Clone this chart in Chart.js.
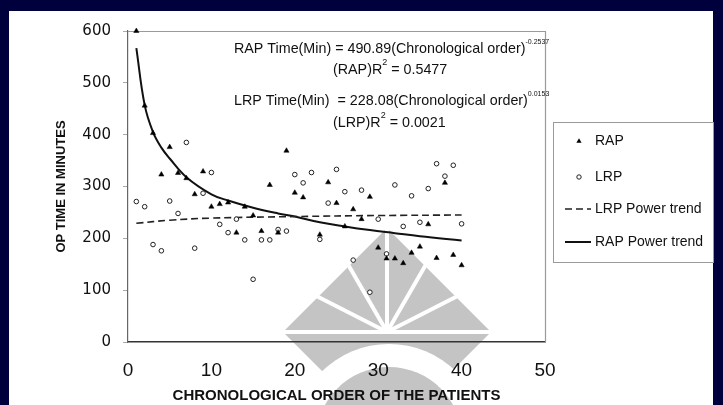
<!DOCTYPE html>
<html>
<head>
<meta charset="utf-8">
<script src="https://cdn.jsdelivr.net/npm/chart.js@4.4.1/dist/chart.umd.min.js"></script>
<style>
  html, body { margin: 0; padding: 0; background: #00003c; }
  #wrap { position: absolute; left: 0; top: 0; width: 723px; height: 405px; }
</style>
</head>
<body>
<div id="wrap"><canvas id="grafico" width="723" height="405"></canvas></div>
<script>
// Chronological order of the patients
const patientOrder = [1, 2, 3, 4, 5, 6, 7, 8, 9, 10, 11, 12, 13, 14, 15, 16, 17, 18, 19, 20,
                      21, 22, 23, 24, 25, 26, 27, 28, 29, 30, 31, 32, 33, 34, 35, 36, 37, 38, 39, 40];
// OP time (min), RAP group (null = not visible)
const rapTimes = [600, 456, 403, 323, 376, 326, 316, 285, 329, 261, 266, 269, 211, 261, 244, 214, 303, 211, 369, 288,
                  279, null, 207, 308, 268, 223, 256, 237, 280, 182, 161, 161, 152, 172, 184, 227, 162, 307, 168, 148];
// OP time (min), LRP group
const lrpTimes = [271, 261, 188, 176, 272, 248, 385, 181, 287, 327, 227, 211, 237, 197, 121, 197, 197, 217, 214, 323,
                  307, 327, 198, 268, 333, 290, 158, 293, 96, 237, 170, 303, 223, 282, 231, 296, 344, 320, 341, 228];
// Power trend lines
const rapTrendX = [1, 2, 3, 4, 5, 7, 10, 12, 15, 18, 20, 23, 26, 29, 32, 35, 40];
const rapTrendY = [567, 457, 405, 375, 354, 318, 285, 273, 259, 248, 242, 231, 223, 216, 210, 204, 196];
const lrpTrendX = [1, 5, 10, 20, 30, 40];
const lrpTrendY = [229, 235, 239, 242, 244, 245];
// Ticks
const xTicks = [0, 10, 20, 30, 40, 50];
const yTicks = [0, 100, 200, 300, 400, 500, 600];
// Series labels
const seriesNames = ['RAP', 'LRP', 'LRP Power trend', 'RAP Power trend'];
// Equation annotation: [main text, superscript, tail, superscript size]
const equations = [
  ['RAP Time(Min) = 490.89(Chronological order)', '-0.2537', '', 7],
  ['(RAP)R', '2', ' = 0.5477', 9],
  ['LRP Time(Min)  = 228.08(Chronological order)', '0.0153', '', 7],
  ['(LRP)R', '2', ' = 0.0021', 9]
];

const pts = (xs, ys) => xs.map((x, i) => ({x: x, y: ys[i]})).filter(p => p.y !== null);

// Grey watermark behind the plot
function drawWatermark(ctx) {
  ctx.save();
  ctx.beginPath();
  ctx.rect(9, 11, 704, 394);
  ctx.clip();
  const cx = 387, cy = 332;
  ctx.fillStyle = '#c4c4c4';
  ctx.beginPath();
  ctx.moveTo(cx, cy - 104);
  ctx.lineTo(cx + 104, cy);
  ctx.lineTo(cx, cy + 104);
  ctx.lineTo(cx - 104, cy);
  ctx.closePath();
  ctx.fill();
  ctx.fillStyle = '#ffffff';
  ctx.beginPath();
  ctx.arc(389, 440, 96, 0, Math.PI * 2);
  ctx.fill();
  ctx.fillStyle = '#c4c4c4';
  ctx.beginPath();
  ctx.arc(389, 440, 73, 0, Math.PI * 2);
  ctx.fill();
  // white rays
  ctx.strokeStyle = '#ffffff';
  ctx.lineWidth = 4;
  [-90, -63, -30, 0, 30, 63, 90].forEach(a => {
    const r = a * Math.PI / 180;
    ctx.beginPath();
    ctx.moveTo(cx, cy);
    ctx.lineTo(cx + Math.sin(r) * 120, cy - Math.cos(r) * 120);
    ctx.stroke();
  });
  ctx.restore();
}

// Background: navy frame, white panel, watermark and plot box
const fundo = {
  id: 'fundo',
  beforeDraw(chart) {
    const ctx = chart.ctx;
    ctx.save();
    ctx.fillStyle = '#00003c';
    ctx.fillRect(0, 0, chart.width, chart.height);
    ctx.fillStyle = '#ffffff';
    ctx.fillRect(9, 11, 704, 394);
    ctx.restore();
    drawWatermark(ctx);
  },
  beforeDatasetsDraw(chart) {
    const a = chart.chartArea, ctx = chart.ctx;
    ctx.save();
    ctx.strokeStyle = '#9a9a9a';
    ctx.lineWidth = 1.2;
    ctx.beginPath();
    ctx.moveTo(a.left, a.top + 0.5);
    ctx.lineTo(a.right + 0.5, a.top + 0.5);
    ctx.lineTo(a.right + 0.5, a.bottom);
    ctx.stroke();
    ctx.restore();
  }
};

// Equations and the boxed legend
const anotacoes = {
  id: 'anotacoes',
  afterDraw(chart) {
    const ctx = chart.ctx;
    const mainFont = '14.3px "Liberation Sans", Arial, sans-serif';
    ctx.save();
    ctx.fillStyle = '#111';
    ctx.textBaseline = 'middle';
    const rows = [[234, 49], [333, 70], [234, 101], [333, 123]];
    equations.forEach((eq, i) => {
      let x = rows[i][0];
      const y = rows[i][1];
      ctx.font = mainFont;
      ctx.fillText(eq[0], x, y);
      x += ctx.measureText(eq[0]).width;
      ctx.font = eq[3] + 'px "Liberation Sans", Arial, sans-serif';
      ctx.fillText(eq[1], x, y - 7);
      x += ctx.measureText(eq[1]).width;
      ctx.font = mainFont;
      ctx.fillText(eq[2], x, y);
    });

    // legend box
    ctx.strokeStyle = '#9a9a9a';
    ctx.lineWidth = 1;
    ctx.strokeRect(553.5, 122.5, 160, 140);
    const ys = [141, 177, 209, 242];
    ctx.font = '14px "Liberation Sans", Arial, sans-serif';
    chart.data.datasets.forEach((ds, i) => {
      const y = ys[i];
      if (ds.showLine) {
        ctx.strokeStyle = ds.borderColor;
        ctx.lineWidth = ds.borderWidth;
        ctx.setLineDash(ds.borderDash || []);
        ctx.beginPath();
        ctx.moveTo(565, y);
        ctx.lineTo(591, y);
        ctx.stroke();
        ctx.setLineDash([]);
      } else {
        ctx.fillStyle = ds.pointBackgroundColor;
        ctx.strokeStyle = ds.pointBorderColor;
        ctx.lineWidth = ds.borderWidth;
        ctx.beginPath();
        if (ds.pointStyle === 'triangle') {
          ctx.moveTo(579, y - 2.8);
          ctx.lineTo(581.6, y + 1.8);
          ctx.lineTo(576.4, y + 1.8);
          ctx.closePath();
          ctx.fill();
        } else {
          ctx.arc(579, y, 2.2, 0, Math.PI * 2);
          ctx.fill();
          ctx.stroke();
        }
      }
      ctx.fillStyle = '#111';
      ctx.fillText(ds.label, 595, y);
    });
    ctx.restore();
  }
};

const ctx = document.getElementById('grafico').getContext('2d');
new Chart(ctx, {
  type: 'scatter',
  data: {
    datasets: [
      {
        label: seriesNames[0],
        data: pts(patientOrder, rapTimes),
        pointStyle: 'triangle',
        pointRadius: 3,
        pointBackgroundColor: '#000',
        pointBorderColor: '#000',
        borderWidth: 0.5,
        showLine: false,
        clip: 6
      },
      {
        label: seriesNames[1],
        data: pts(patientOrder, lrpTimes),
        pointStyle: 'circle',
        pointRadius: 2.3,
        pointBackgroundColor: '#fff',
        pointBorderColor: '#222',
        borderWidth: 1,
        showLine: false,
        clip: 6
      },
      {
        label: seriesNames[2],
        data: pts(lrpTrendX, lrpTrendY),
        showLine: true,
        pointRadius: 0,
        borderColor: '#222',
        borderWidth: 1.6,
        borderDash: [7, 4],
        tension: 0.4,
        fill: false
      },
      {
        label: seriesNames[3],
        data: pts(rapTrendX, rapTrendY),
        showLine: true,
        pointRadius: 0,
        borderColor: '#111',
        borderWidth: 2,
        tension: 0.4,
        fill: false
      }
    ]
  },
  options: {
    responsive: false,
    animation: false,
    layout: { padding: { top: 31, right: 178, left: 0, bottom: 0 } },
    plugins: {
      legend: { display: false },
      tooltip: { enabled: false }
    },
    scales: {
      x: {
        type: 'linear',
        min: 0,
        max: 50,
        afterBuildTicks: s => { s.ticks = xTicks.map(v => ({ value: v })); },
        afterFit: s => { s.height = 63; },
        grid: { drawOnChartArea: false, drawTicks: false },
        border: { display: true, color: '#333', width: 1.5 },
        ticks: {
          padding: 17,
          color: '#111',
          font: { family: '"Liberation Sans", Arial, sans-serif', size: 19 }
        },
        title: {
          display: true,
          text: 'CHRONOLOGICAL ORDER OF THE PATIENTS',
          color: '#111',
          padding: { top: 0, bottom: 0 },
          font: { family: '"Liberation Sans", Arial, sans-serif', size: 15, weight: 'bold' }
        }
      },
      y: {
        type: 'linear',
        min: 0,
        max: 600,
        afterBuildTicks: s => { s.ticks = yTicks.map(v => ({ value: v })); },
        afterFit: s => { s.width = 128; },
        grid: { drawOnChartArea: false, drawTicks: true, tickLength: 5, color: '#aaa' },
        border: { display: true, color: '#666', width: 1.2 },
        ticks: {
          padding: 12,
          color: '#111',
          font: { family: '"DejaVu Sans", sans-serif', size: 15 }
        },
        title: {
          display: true,
          text: 'OP TIME IN MINUTES',
          color: '#111',
          padding: { top: 54, bottom: 0 },
          font: { family: '"Liberation Sans", Arial, sans-serif', size: 13, weight: 'bold' }
        }
      }
    }
  },
  plugins: [fundo, anotacoes]
});
</script>
</body>
</html>
